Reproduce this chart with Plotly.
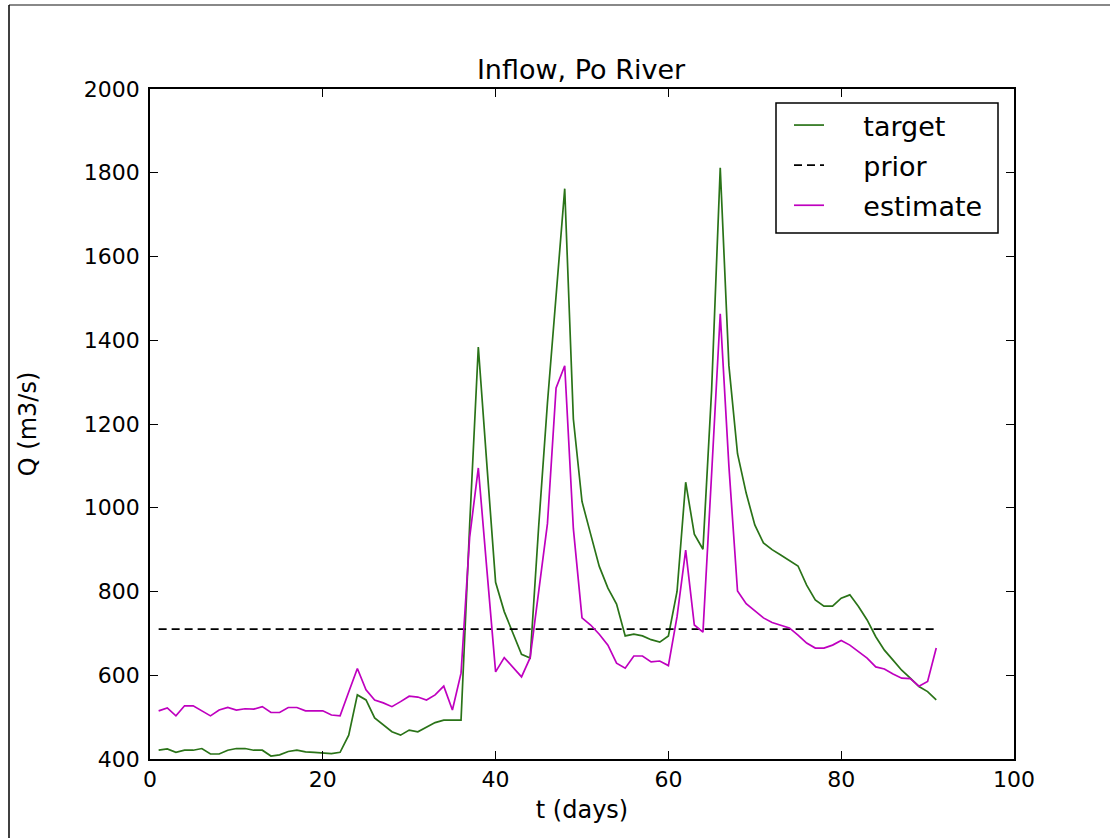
import plotly.graph_objects as go

# ---- data ----
t_days = list(range(1, 92))

target_q = [421, 424, 416, 421, 421, 425, 412, 412, 421, 425, 425, 421, 421, 407, 410, 418,
            421, 417, 416, 415, 413, 416,
            457, 553, 541, 498, 481, 465, 457, 469, 465, 477, 487, 493, 493, 493,
            960, 1384, 1100, 822, 752, 700, 650, 641, 960, 1250, 1515, 1762,
            1212, 1015, 937, 860, 808, 770, 694, 698, 694, 685, 679, 694,
            800, 1061, 937, 901, 1280, 1812, 1340, 1129, 1035, 959, 916,
            900, 887, 875, 861, 815, 780, 765, 765, 784, 792, 764, 732, 692, 660, 636,
            612, 593, 573, 561, 541]

estimate_q = [515, 522, 503, 527, 527, 515, 503, 517, 523, 517, 520, 519, 525, 511, 511, 523,
              523, 515, 515, 515, 505, 503,
              560, 616, 565, 541, 534, 525, 537, 550, 548, 541, 553, 574, 517, 605,
              930, 1095, 850, 608, 642, 620, 596, 642, 800, 962, 1286, 1339,
              950, 737, 720, 698, 672, 629, 617, 646, 646, 632, 634, 623,
              740, 899, 720, 703, 1080, 1463, 1100, 801, 771, 754, 737,
              726, 720, 713, 696, 677, 665, 665, 672, 683, 672, 656, 641, 620, 615, 603,
              593, 592, 574, 585, 665]

prior_q = 710

x_ticks = [0, 20, 40, 60, 80, 100]
y_ticks = [400, 600, 800, 1000, 1200, 1400, 1600, 1800, 2000]

FONT = "DejaVu Sans"
W, H = 1110, 838
ML, MR, MT, MB = 150, 96, 89, 79
PW, PH = W - ML - MR, H - MT - MB

def px_x(p):
    return (p - ML) / PW

def px_y(p):
    return (H - MB - p) / PH

NB = "\u00a0" * 4

fig = go.Figure()
fig.add_trace(go.Scatter(x=t_days, y=target_q, mode="lines", name=NB + "target",
                         legendgroup="a",
                         line=dict(color="#2a7318", width=1.7)))
fig.add_trace(go.Scatter(x=[t_days[0], t_days[-1]], y=[prior_q, prior_q], mode="lines",
                         name=NB + "prior", legendgroup="b",
                         line=dict(color="black", width=1.7, dash="8px,5px")))
fig.add_trace(go.Scatter(x=t_days, y=estimate_q, mode="lines", name=NB + "estimate",
                         legendgroup="c",
                         line=dict(color="#bf00bf", width=1.7)))

axis_common = dict(showline=True, linecolor="black", linewidth=1.6, mirror="ticks",
                   ticks="inside", ticklen=8, tickwidth=1, tickcolor="black",
                   showgrid=False, zeroline=False,
                   tickfont=dict(family=FONT, size=22, color="black"))

fig.update_xaxes(range=[0, 100], tickvals=x_ticks, ticktext=[str(v) for v in x_ticks],
                 title=dict(text="t (days)", font=dict(family=FONT, size=24, color="black"),
                            standoff=10),
                 **axis_common)
fig.update_yaxes(range=[400, 2000], tickvals=y_ticks, ticktext=[str(v) for v in y_ticks],
                 title=dict(text="Q (m3/s)", font=dict(family=FONT, size=24, color="black"),
                            standoff=40),
                 ticklabelstandoff=4,
                 **axis_common)

fig.update_layout(
    width=W, height=H,
    margin=dict(l=ML, r=MR, t=MT, b=MB, autoexpand=False),
    paper_bgcolor="white", plot_bgcolor="white",
    font=dict(family=FONT, size=22, color="black"),
    title=dict(text="Inflow, Po River", x=581 / W, xanchor="center",
               y=1 - 70 / H, yanchor="middle",
               font=dict(family=FONT, size=27, color="black")),
    showlegend=True,
    legend=dict(x=px_x(789), y=px_y(101), xanchor="left", yanchor="top",
                borderwidth=0, bgcolor="rgba(0,0,0,0)",
                font=dict(family=FONT, size=27, color="black"),
                tracegroupgap=2, traceorder="grouped"),
    shapes=[
        dict(type="rect", xref="paper", yref="paper", x0=px_x(776), x1=px_x(998),
             y0=px_y(103), y1=px_y(233), line=dict(color="black", width=1.5),
             fillcolor="rgba(0,0,0,0)", layer="above"),
        dict(type="line", xref="paper", yref="paper", x0=px_x(9), x1=px_x(1110),
             y0=px_y(5), y1=px_y(5), line=dict(color="#888888", width=2)),
        dict(type="line", xref="paper", yref="paper", x0=px_x(9), x1=px_x(9),
             y0=px_y(5), y1=px_y(838), line=dict(color="black", width=1.5)),
    ],
)

fig.write_html("out.html")
